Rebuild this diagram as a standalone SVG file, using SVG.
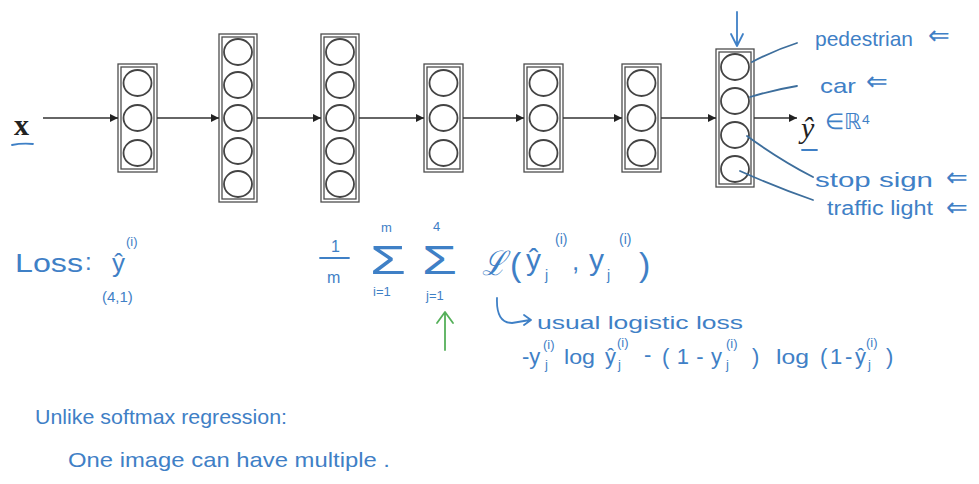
<svg xmlns="http://www.w3.org/2000/svg" width="979" height="484" viewBox="0 0 979 484">
<defs>
<marker id="ah" viewBox="0 0 10 10" refX="10" refY="5" markerWidth="10" markerHeight="8" markerUnits="userSpaceOnUse" orient="auto"><path d="M0,0 L10,5 L0,10 z" fill="#222"/></marker>
</defs>
<style>
.box{fill:none;stroke:#4d4d4d;stroke-width:1.3}
.n{fill:none;stroke:#444;stroke-width:1.8}
.edge{stroke:#333;stroke-width:1.3;fill:none}
.hw{font-family:"Liberation Sans",Arial,sans-serif;fill:#3f80c6}
.ink{fill:none;stroke:#3f80c6;stroke-width:1.8;stroke-linecap:round;stroke-linejoin:round}
.lead{fill:none;stroke:#3d6e9c;stroke-width:1.8;stroke-linecap:round}
.ser{font-family:"Liberation Serif","Times New Roman",serif;fill:#222}
.sm{font-size:13px}
.arr{font-size:26px}
</style>
<rect width="979" height="484" fill="#ffffff"/>

<g id="layer1">
<rect class="box" x="118" y="64" width="39" height="108"/><rect class="box" x="121" y="67" width="33" height="102"/>
<ellipse class="n" cx="137.5" cy="83" rx="14" ry="13"/><ellipse class="n" cx="137.5" cy="118" rx="14" ry="13"/><ellipse class="n" cx="137.5" cy="153" rx="14" ry="13"/>
</g>
<g id="layer2">
<rect class="box" x="219" y="34" width="38" height="168"/><rect class="box" x="222" y="37" width="32" height="162"/>
<ellipse class="n" cx="238" cy="52" rx="14" ry="13"/><ellipse class="n" cx="238" cy="85" rx="14" ry="13"/><ellipse class="n" cx="238" cy="118" rx="14" ry="13"/><ellipse class="n" cx="238" cy="151" rx="14" ry="13"/><ellipse class="n" cx="238" cy="184" rx="14" ry="13"/>
</g>
<g id="layer3">
<rect class="box" x="321" y="34" width="38" height="168"/><rect class="box" x="324" y="37" width="32" height="162"/>
<ellipse class="n" cx="340" cy="52" rx="14" ry="13"/><ellipse class="n" cx="340" cy="85" rx="14" ry="13"/><ellipse class="n" cx="340" cy="118" rx="14" ry="13"/><ellipse class="n" cx="340" cy="151" rx="14" ry="13"/><ellipse class="n" cx="340" cy="184" rx="14" ry="13"/>
</g>
<g id="layer4">
<rect class="box" x="424" y="64" width="39" height="108"/><rect class="box" x="427" y="67" width="33" height="102"/>
<ellipse class="n" cx="443.5" cy="83" rx="14" ry="13"/><ellipse class="n" cx="443.5" cy="118" rx="14" ry="13"/><ellipse class="n" cx="443.5" cy="153" rx="14" ry="13"/>
</g>
<g id="layer5">
<rect class="box" x="524" y="64" width="39" height="108"/><rect class="box" x="527" y="67" width="33" height="102"/>
<ellipse class="n" cx="543.5" cy="83" rx="14" ry="13"/><ellipse class="n" cx="543.5" cy="118" rx="14" ry="13"/><ellipse class="n" cx="543.5" cy="153" rx="14" ry="13"/>
</g>
<g id="layer6">
<rect class="box" x="622" y="64" width="39" height="108"/><rect class="box" x="625" y="67" width="33" height="102"/>
<ellipse class="n" cx="641.5" cy="83" rx="14" ry="13"/><ellipse class="n" cx="641.5" cy="118" rx="14" ry="13"/><ellipse class="n" cx="641.5" cy="153" rx="14" ry="13"/>
</g>
<g id="layer7">
<rect class="box" x="716" y="49" width="38" height="138"/><rect class="box" x="719" y="52" width="32" height="132"/>
<ellipse class="n" cx="735" cy="67" rx="14" ry="13"/><ellipse class="n" cx="735" cy="101" rx="14" ry="13"/><ellipse class="n" cx="735" cy="135" rx="14" ry="13"/><ellipse class="n" cx="735" cy="169" rx="14" ry="13"/>
</g>

<g id="input">
<text class="ser" x="14" y="135" font-size="30" font-weight="bold">x</text>
<path class="ink" d="M12,145 Q22,143 33,144"/>
</g>
<g id="output">
<text class="ser" x="801" y="138" font-size="30" font-style="italic">ŷ</text>
<path class="ink" d="M802,150 L817,150"/>
</g>

<g id="connectors">
<path class="edge" d="M43,118 H118" marker-end="url(#ah)"/>
<path class="edge" d="M157,118 H219" marker-end="url(#ah)"/>
<path class="edge" d="M257,118 H321" marker-end="url(#ah)"/>
<path class="edge" d="M359,118 H424" marker-end="url(#ah)"/>
<path class="edge" d="M463,118 H524" marker-end="url(#ah)"/>
<path class="edge" d="M563,118 H622" marker-end="url(#ah)"/>
<path class="edge" d="M661,118 H716" marker-end="url(#ah)"/>
<path class="edge" d="M754,118 H797" marker-end="url(#ah)"/>
</g>

<g id="annotations">
<path class="ink" d="M737,12 L737,46 M731,34 L737,46 L743,34"/>
<path class="lead" d="M752,62 Q775,50 797,43"/>
<path class="lead" d="M750,97 Q773,90 797,86"/>
<path class="lead" d="M747,136 Q780,160 813,177"/>
<path class="lead" d="M740,171 Q778,188 813,200"/>
<text class="hw" x="815" y="46" font-size="21" textLength="98" lengthAdjust="spacingAndGlyphs">pedestrian</text>
<text class="hw arr" x="928" y="44">⇐</text>
<text class="hw" x="820" y="93" font-size="21" textLength="36" lengthAdjust="spacingAndGlyphs">car</text>
<text class="hw arr" x="866" y="90">⇐</text>
<text class="hw" x="825" y="129" font-size="22">∈ℝ⁴</text>
<text class="hw" x="815" y="187" font-size="20" textLength="118" lengthAdjust="spacingAndGlyphs">stop sign</text>
<text class="hw arr" x="946" y="186">⇐</text>
<text class="hw" x="827" y="215" font-size="20" textLength="106" lengthAdjust="spacingAndGlyphs">traffic light</text>
<text class="hw arr" x="946" y="216">⇐</text>
</g>

<g id="loss">
<text class="hw" x="15" y="272" font-size="26" textLength="68" lengthAdjust="spacingAndGlyphs">Loss</text>
<text class="hw" x="85" y="270" font-size="24">:</text>
<text class="hw" x="112" y="272" font-size="26">ŷ</text>
<text class="hw" x="126" y="246" font-size="13">(i)</text>
<text class="hw" x="102" y="302" font-size="15">(4,1)</text>
</g>

<g id="formula">
<text class="hw" x="331" y="252" font-size="16">1</text>
<path class="ink" d="M320,258 L349,258"/>
<text class="hw" x="327" y="283" font-size="16">m</text>
<text class="hw" x="370" y="274" font-size="40" textLength="36" lengthAdjust="spacingAndGlyphs">Σ</text>
<text class="hw sm" x="381" y="232">m</text>
<text class="hw sm" x="373" y="296">i=1</text>
<text class="hw" x="422" y="274" font-size="40" textLength="35" lengthAdjust="spacingAndGlyphs">Σ</text>
<text class="hw sm" x="433" y="231">4</text>
<text class="hw sm" x="426" y="300">j=1</text>
<text class="hw" x="482" y="275" font-size="34" font-style="italic" textLength="24" lengthAdjust="spacingAndGlyphs">ℒ</text>
<text class="hw" x="510" y="276" font-size="34">(</text>
<text class="hw" x="526" y="270" font-size="30">ŷ</text>
<text class="hw" x="545" y="280" font-size="14">j</text>
<text class="hw" x="555" y="244" font-size="14">(i)</text>
<text class="hw" x="572" y="270" font-size="26">,</text>
<text class="hw" x="589" y="270" font-size="30">y</text>
<text class="hw" x="607" y="280" font-size="14">j</text>
<text class="hw" x="619" y="244" font-size="14">(i)</text>
<text class="hw" x="639" y="276" font-size="34">)</text>
<path d="M445,350 L445,313 M437,323 L445,312 L453,323" fill="none" stroke="#55b05a" stroke-width="1.8" stroke-linecap="round" stroke-linejoin="round"/>
<path class="ink" d="M497,298 Q496,323 512,323 L530,320 M524,315 L531,320 L524,325"/>
<text class="hw" x="537" y="329" font-size="18" textLength="206" lengthAdjust="spacingAndGlyphs">usual logistic loss</text>
<text class="hw" x="522" y="364" font-size="22">-y</text>
<text class="hw sm" x="545" y="369">j</text>
<text class="hw sm" x="543" y="349">(i)</text>
<text class="hw" x="564" y="364" font-size="21" textLength="31" lengthAdjust="spacingAndGlyphs">log</text>
<text class="hw" x="605" y="364" font-size="22">ŷ</text>
<text class="hw sm" x="618" y="369">j</text>
<text class="hw sm" x="617" y="347">(i)</text>
<text class="hw" x="644" y="362" font-size="22">-</text>
<text class="hw" x="662" y="364" font-size="22" textLength="60" lengthAdjust="spacing">(1-y</text>
<text class="hw sm" x="726" y="369">j</text>
<text class="hw sm" x="726" y="348">(i)</text>
<text class="hw" x="752" y="364" font-size="22">)</text>
<text class="hw" x="776" y="364" font-size="21" textLength="33" lengthAdjust="spacingAndGlyphs">log</text>
<text class="hw" x="820" y="364" font-size="22" textLength="46" lengthAdjust="spacing">(1-ŷ</text>
<text class="hw sm" x="868" y="369">j</text>
<text class="hw sm" x="866" y="347">(i)</text>
<text class="hw" x="886" y="364" font-size="22">)</text>
</g>

<g id="note">
<text class="hw" x="35" y="424" font-size="21" textLength="252" lengthAdjust="spacingAndGlyphs">Unlike softmax regression:</text>
<text class="hw" x="68" y="467" font-size="21" textLength="322" lengthAdjust="spacingAndGlyphs">One image can have multiple .</text>
</g>
</svg>
